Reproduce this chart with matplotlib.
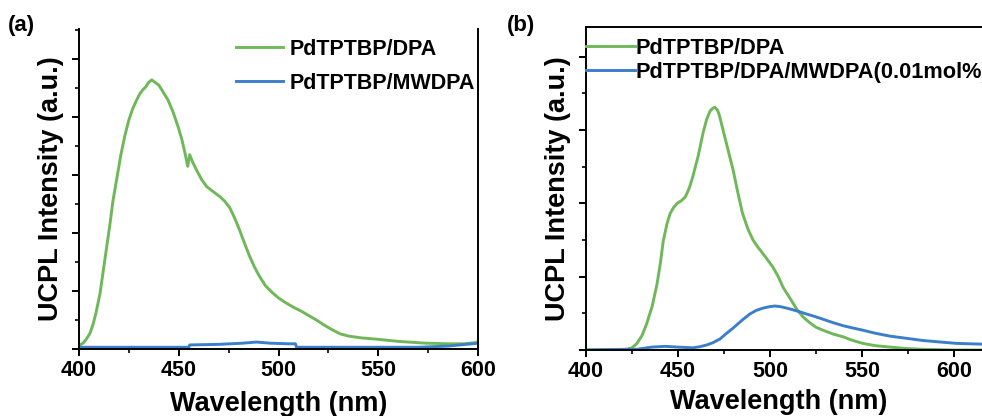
import matplotlib
matplotlib.use("Agg")
import matplotlib.pyplot as plt
from matplotlib.ticker import MultipleLocator

plt.rcParams["font.family"] = ["Liberation Sans", "DejaVu Sans"]
plt.rcParams["font.weight"] = "bold"

GREEN = "#6FB859"
BLUE = "#3B7FCB"

# panel (a): PdTPTBP/DPA vs PdTPTBP/MWDPA
a_dpa_x = [400.5, 402, 403.5, 405.5, 407, 408.5, 410.5, 413, 415.5, 417, 419, 421, 423, 425,
           427, 429, 430.5, 432, 433.5, 435, 436.5, 438, 440, 442, 444.5, 447, 449.5, 451.5,
           453, 454.5, 455.5, 457, 459, 461.5, 464, 467, 470.5, 473, 475.5, 478, 480.5, 483,
           485.5, 488, 490.5, 493.5, 497, 500, 503.5, 507.5, 511.5, 515, 519, 523, 527,
           531, 535.5, 542, 549, 560.5, 574, 585.5, 593, 599, 600]
a_dpa_y = [0.07, 0.10, 0.16, 0.27, 0.42, 0.62, 0.95, 1.55, 2.15, 2.55, 2.95, 3.35, 3.68, 3.95,
           4.15, 4.30, 4.40, 4.47, 4.52, 4.60, 4.64, 4.60, 4.55, 4.44, 4.30, 4.10, 3.85, 3.62,
           3.40, 3.15, 3.35, 3.22, 3.08, 2.92, 2.80, 2.72, 2.63, 2.55, 2.44, 2.26, 2.05, 1.82,
           1.60, 1.41, 1.25, 1.09, 0.97, 0.88, 0.80, 0.72, 0.65, 0.58, 0.50, 0.41, 0.33,
           0.26, 0.22, 0.19, 0.17, 0.13, 0.10, 0.09, 0.09, 0.11, 0.13]
a_mw_x = [400, 430, 455, 455.5, 470, 482, 489, 496, 505, 508.5, 509, 540, 570, 585, 600]
a_mw_y = [0.03, 0.03, 0.03, 0.07, 0.08, 0.10, 0.12, 0.10, 0.09, 0.09, 0.03, 0.03, 0.03, 0.05, 0.10]

# panel (b): PdTPTBP/DPA vs PdTPTBP/DPA/MWDPA(0.01mol%)
b_dpa_x = [400, 422, 425, 427.7, 430.5, 433, 436, 438.6, 440.5, 442, 444, 445.7, 447.5, 449.5,
           452, 454, 456, 458, 461, 463.6, 465.5, 467.4, 469, 470, 471.5, 472.5, 474.5, 477,
           480, 482.5, 485, 488, 490.8, 493.5, 496, 499, 501.6, 504.5, 507, 511, 514.7, 518,
           521.7, 525, 528.8, 534, 539.7, 545, 550.5, 557, 565, 574, 583, 600, 615]
b_dpa_y = [0.0, 0.01, 0.03, 0.09, 0.20, 0.36, 0.60, 0.90, 1.20, 1.49, 1.72, 1.86, 1.94, 2.00,
           2.04, 2.09, 2.20, 2.36, 2.65, 2.96, 3.14, 3.26, 3.30, 3.31, 3.27, 3.20, 3.00, 2.75,
           2.45, 2.15, 1.87, 1.65, 1.50, 1.40, 1.32, 1.22, 1.13, 1.00, 0.86, 0.70, 0.55, 0.45,
           0.37, 0.31, 0.27, 0.22, 0.18, 0.13, 0.09, 0.06, 0.04, 0.02, 0.01, 0.0, 0.0]
b_mw_x = [400, 427.7, 436, 443, 449.5, 458, 462, 465.8, 469, 472.8, 476, 480, 484.5, 489,
          492.5, 496, 499.5, 502.7, 506, 510.8, 515, 520, 524, 528.8, 534, 540, 545, 550.5,
          557, 565, 574, 583, 592, 601.6, 615]
b_mw_y = [0.0, 0.01, 0.04, 0.05, 0.04, 0.03, 0.045, 0.07, 0.10, 0.15, 0.22, 0.30, 0.40, 0.49,
          0.54, 0.57, 0.59, 0.60, 0.59, 0.56, 0.53, 0.49, 0.46, 0.42, 0.375, 0.33, 0.30, 0.27,
          0.23, 0.19, 0.16, 0.13, 0.11, 0.09, 0.08]

xticks = [400, 450, 500, 550, 600]

W, H = 982, 416
fig = plt.figure(figsize=(W / 100, H / 100), dpi=100)


def px_axes(left, right, bottom, top):
    return fig.add_axes([left / W, 1 - bottom / H, (right - left) / W, (bottom - top) / H])


def style(ax, ytop, xmax):
    ax.set_xlim(400, xmax)
    ax.set_ylim(0, ytop)
    ax.xaxis.set_major_locator(MultipleLocator(50))
    ax.xaxis.set_minor_locator(MultipleLocator(25))
    ax.yaxis.set_major_locator(MultipleLocator(1))
    ax.yaxis.set_minor_locator(MultipleLocator(0.5))
    ax.set_yticklabels([])
    ax.tick_params(which="major", direction="out", length=5, width=1.4, labelsize=15.5, pad=3)
    ax.tick_params(which="minor", direction="out", length=3, width=1.2)
    for lab in ax.get_xticklabels():
        lab.set_fontweight("bold")
    for s in ax.spines.values():
        s.set_linewidth(1.4)
    ax.set_xlabel("Wavelength (nm)", fontsize=19.5, fontweight="bold", labelpad=7)
    ax.set_ylabel("UCPL Intensity (a.u.)", fontsize=19.5, fontweight="bold", labelpad=3)


# (a)
ax1 = px_axes(79, 478, 349, 29)
ax1.plot(a_dpa_x, a_dpa_y, color=GREEN, lw=2.1, label="PdTPTBP/DPA")
ax1.plot(a_mw_x, a_mw_y, color=BLUE, lw=2.1, label="PdTPTBP/MWDPA")
style(ax1, (349 - 29) / 58, 600)
ax1.spines["top"].set_visible(False)
ax1.legend(loc="upper left", bbox_to_anchor=(236 / W, 1 - 39 / H), bbox_transform=fig.transFigure,
           frameon=False, borderpad=0, borderaxespad=0, handlelength=2.2, handletextpad=0.3,
           labelspacing=0.6, prop={"size": 15.5, "weight": "bold"})
fig.text(8 / W, 1 - 26 / H, "(a)", fontsize=16, fontweight="bold", va="center", ha="left")

# (b) -- right part runs off the figure
ax2 = px_axes(586, 586 + 460, 350, 27)
ax2.plot(b_dpa_x, b_dpa_y, color=GREEN, lw=2.1, label="PdTPTBP/DPA")
ax2.plot(b_mw_x, b_mw_y, color=BLUE, lw=2.1, label="PdTPTBP/DPA/MWDPA(0.01mol%)")
style(ax2, (350 - 27) / 73.3, 650)
ax2.set_xticks(xticks)
ax2.xaxis.set_label_coords((779 - 586) / 460, -0.12)
ax2.legend(loc="upper left", bbox_to_anchor=(586 / W, 1 - 38 / H), bbox_transform=fig.transFigure,
           frameon=False, borderpad=0, borderaxespad=0, handlelength=2.25, handletextpad=0.0,
           labelspacing=0.14, prop={"size": 15.7, "weight": "bold"})
fig.text(507 / W, 1 - 26 / H, "(b)", fontsize=16, fontweight="bold", va="center", ha="left")

fig.savefig("out.png", dpi=100)
